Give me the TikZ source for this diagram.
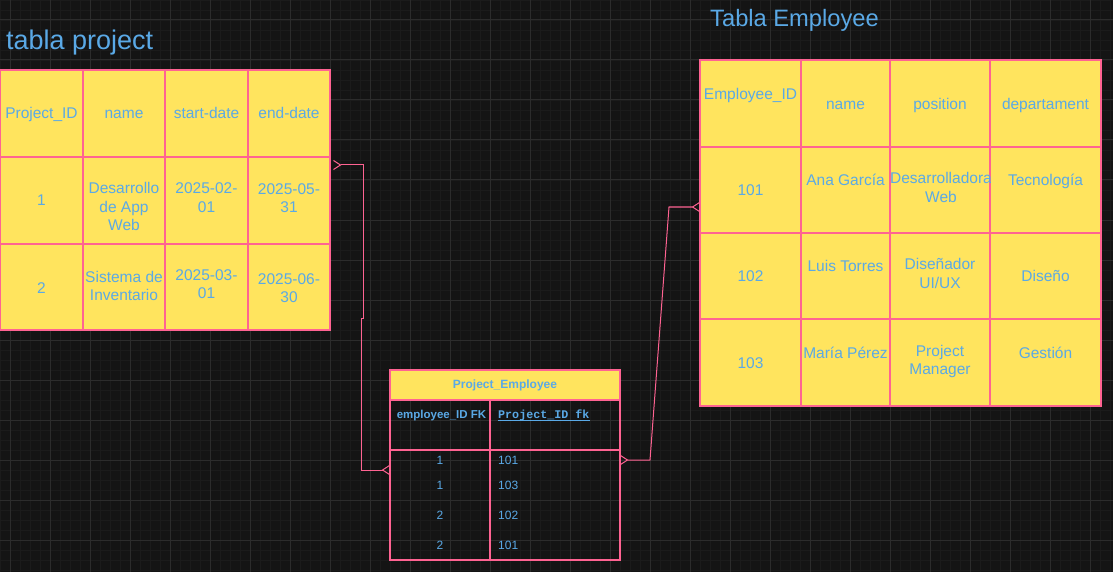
\documentclass[tikz,border=0pt]{standalone}
\usepackage{fontspec}
\setmainfont{Liberation Sans}
\newfontfamily\monof{Liberation Mono}
\usetikzlibrary{arrows.meta}
\definecolor{bg}{HTML}{141414}
\definecolor{gmin}{HTML}{1B1B1B}
\definecolor{gmaj}{HTML}{2C2C2C}
\definecolor{yl}{HTML}{FFE45E}
\definecolor{pk}{HTML}{FF6392}
\definecolor{bl}{HTML}{5AA9E6}
\newcommand\mkcell[6][cell]{\node[#1,minimum width={(#5-#3)*1pt},minimum height={(#6-#4)*1pt}] (#2) at ({(#3+#5)/2},{(#4+#6)/2}) {};}
\tikzset{
  cell/.style={draw=pk,fill=yl,line width=1.2pt,inner sep=0pt,outer sep=0pt},
  frame/.style={draw=pk,line width=1.2pt,inner sep=0pt,outer sep=0pt},
  tx/.style={text=bl,inner sep=0pt,anchor=base,align=center,font=\fontsize{15.5}{18.5}\selectfont},
  ttl/.style={text=bl,inner sep=0pt,anchor=base west},
  smb/.style={text=bl,inner sep=0pt,anchor=base,font=\fontsize{12}{14}\selectfont\bfseries},
  smd/.style={text=bl,inner sep=0pt,anchor=base,font=\fontsize{12}{14}\selectfont},
  crow/.tip={Straight Barb[reversed,length=7pt,width=9pt]},
  conn/.style={draw=pk,line width=1pt,crow-crow},
}
\begin{document}
\begin{tikzpicture}[x=1pt,y=-1pt]
\useasboundingbox (0,0) rectangle (1113,572);
\fill[bg] (0,0) rectangle (1113,572);
% grid
\foreach \x in {0,10,...,1110} \draw[gmin,line width=0.8pt] (\x,0) -- (\x,572);
\foreach \y in {0,10,...,570} \draw[gmin,line width=0.8pt] (0,\y) -- (1113,\y);
\foreach \x in {10,50,...,1090} \draw[gmaj,line width=1pt] (\x,0) -- (\x,572);
\foreach \y in {20,60,...,560} \draw[gmaj,line width=1pt] (0,\y) -- (1113,\y);

% titles
\node[ttl,font=\fontsize{27}{30}\selectfont] (tt1) at (6,50) {tabla project};
\node[ttl,font=\fontsize{23.7}{26}\selectfont] (tt2) at (710,27) {Tabla Employee};

% project table
\foreach \r/\ya/\yb in {0/70/157,1/157/244,2/244/330}
  \foreach \c/\xa/\xb in {1/0/83,2/83/165,3/165/248,4/248/330}
    {\mkcell{p\r\c}{\xa}{\ya}{\xb}{\yb}}
\node[tx] (tp01) at (41.5,118.8) {Project\_ID};
\node[tx] (tp02) at (124,118.8) {name};
\node[tx] (tp03) at (206.5,118.8) {start-date};
\node[tx] (tp04) at (289,118.8) {end-date};
\node[tx] (tp11) at (41.5,205.5) {1};
\node[tx] (tp12) at (124,230.5) {Desarrollo\\de App\\Web};
\node[tx] (tp13) at (206.5,212.2) {2025-02-\\01};
\node[tx] (tp14) at (289,212.5) {2025-05-\\31};
\node[tx] (tp21) at (41.5,293) {2};
\node[tx] (tp22) at (124,300.5) {Sistema de\\Inventario};
\node[tx] (tp23) at (206.5,298.8) {2025-03-\\01};
\node[tx] (tp24) at (289,302.5) {2025-06-\\30};

% employee table
\foreach \r/\ya/\yb in {0/60/147,1/147/233,2/233/319,3/319/406}
  \foreach \c/\xa/\xb in {1/700/801,2/801/890,3/890/990,4/990/1101}
    {\mkcell{e\r\c}{\xa}{\ya}{\xb}{\yb}}
\node[tx] (te01) at (750.5,99.8) {Employee\_ID};
\node[tx] (te02) at (845.5,109.8) {name};
\node[tx] (te03) at (940,109.8) {position};
\node[tx] (te04) at (1045.5,109.8) {departament};
\node[tx] (te11) at (750.5,195.5) {101};
\node[tx] (te12) at (845.5,185.5) {Ana García};
\begin{scope}
  \clip (890,147) rectangle (990,233);
  \node[tx] (te13) at (941,202.2) {Desarrolladora\\Web};
\end{scope}
\node[tx] (te14) at (1045.5,185.5) {Tecnología};
\node[tx] (te21) at (750.5,281.5) {102};
\node[tx] (te22) at (845.5,271.5) {Luis Torres};
\node[tx] (te23) at (940,288.2) {Diseñador\\UI/UX};
\node[tx] (te24) at (1045.5,281.5) {Diseño};
\node[tx] (te31) at (750.5,368.2) {103};
\node[tx] (te32) at (845.5,358.2) {María Pérez};
\node[tx] (te33) at (940,374.8) {Project\\Manager};
\node[tx] (te34) at (1045.5,358.2) {Gestión};

% Project_Employee
\mkcell{peh}{390}{370}{620}{400}
\mkcell[frame]{peb}{390}{400}{620}{560}
\mkcell[frame]{pec}{390}{400}{490}{560}
\mkcell[frame]{pehr}{390}{400}{620}{450}
\node[smb] (tpe0) at (505,388.6) {Project\_Employee};
\node[smb,font=\fontsize{11.5}{14}\selectfont\bfseries] (tpe1) at (441.5,418.5) {employee\_ID FK};
\node[text=bl,inner sep=0pt,anchor=base west,font=\fontsize{11.7}{14}\monof\bfseries] (tpe2) at (498,418.5) {Project\_ID fk};
\draw[bl,line width=0.9pt] ([yshift=-2pt]tpe2.base west) -- ([yshift=-2pt]tpe2.base east);
\node[smd] (tpd1) at (440,464.3) {1};
\node[smd] (tpd2) at (440,489.3) {1};
\node[smd] (tpd3) at (440,519.3) {2};
\node[smd] (tpd4) at (440,549.3) {2};
\node[smd,anchor=base west] (tpv1) at (498,464.3) {101};
\node[smd,anchor=base west] (tpv2) at (498,489.3) {103};
\node[smd,anchor=base west] (tpv3) at (498,519.3) {102};
\node[smd,anchor=base west] (tpv4) at (498,549.3) {101};

% connectors
\draw[conn] ([xshift=3pt,yshift=-8pt]p14.north east) -- (363,165) -- (363,318) -- (361,318) -- (361,470) -- ([yshift=-70pt]peb.north west);
\draw[conn] ([yshift=-60pt]peb.north east) -- (650,460) -- (669,207) -- ([yshift=-60pt]e11.north west);
\end{tikzpicture}
\end{document}
